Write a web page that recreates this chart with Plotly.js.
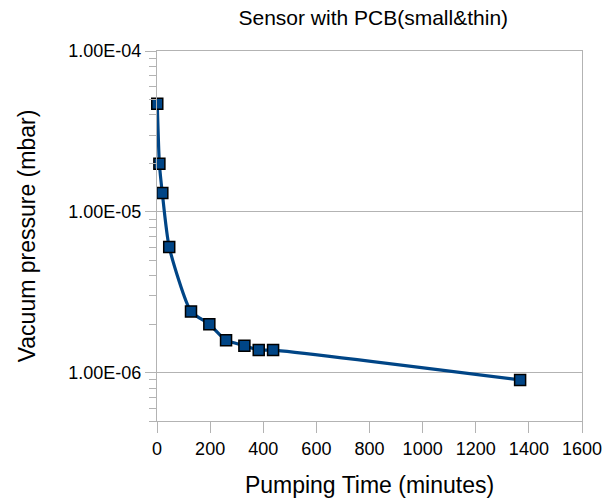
<!DOCTYPE html>
<html>
<head>
<meta charset="utf-8">
<script src="https://cdn.plot.ly/plotly-3.0.1.min.js"></script>
<style>html,body{margin:0;padding:0;background:#fff;}#chart{width:604px;height:500px;}</style>
</head>
<body>
<div id="chart"></div>
<script>
const pumpingTime = [1, 9, 20, 46, 128, 197, 260, 329, 383, 437, 1367];
const pressure = [4.69e-5, 1.99e-5, 1.31e-5, 6.04e-6, 2.4e-6, 2.0e-6, 1.59e-6, 1.47e-6, 1.38e-6, 1.38e-6, 9.0e-7];
const yTickVals = [1e-6, 1e-5, 1e-4];
const yTickText = ["1.00E-06", "1.00E-05", "1.00E-04"];
const xTickVals = [0, 200, 400, 600, 800, 1000, 1200, 1400, 1600];

const font = 'Liberation Sans, Arial, sans-serif';
const yRange = [Math.log10(5e-7), -4];

const trace = {
  x: pumpingTime,
  y: pressure,
  mode: 'lines+markers',
  cliponaxis: false,
  line: {color: '#004586', width: 3.2, shape: 'spline', smoothing: 0.6},
  marker: {symbol: 'square', size: 11, color: '#004586', line: {color: '#000000', width: 1.5}},
  hoverinfo: 'x+y'
};

const layout = {
  width: 604, height: 500,
  margin: {l: 157, r: 22, t: 51, b: 79},
  paper_bgcolor: '#ffffff', plot_bgcolor: '#ffffff',
  showlegend: false,
  font: {family: font, color: '#000000', size: 18},
  title: {text: 'Sensor with PCB(small&amp;thin)', font: {family: font, size: 21, color: '#000'}, x: 0.618, xanchor: 'center', y: 0.964, yanchor: 'middle'},
  xaxis: {
    range: [0, 1600], tickvals: xTickVals, ticktext: xTickVals.map(String),
    showgrid: false, zeroline: false,
    showline: true, linecolor: '#b3b3b3', linewidth: 1, mirror: true,
    ticks: 'outside', ticklen: 11, tickcolor: '#b3b3b3',
    tickfont: {family: font, size: 18, color: '#000'},
    automargin: false,
    title: {text: 'Pumping Time (minutes)', font: {family: font, size: 23, color: '#000'}, standoff: 19}
  },
  yaxis: {
    type: 'log', range: yRange,
    tickvals: yTickVals, ticktext: yTickText,
    showgrid: true, gridcolor: '#b3b3b3', gridwidth: 1, zeroline: false,
    showline: true, linecolor: '#b3b3b3', linewidth: 1, mirror: true,
    ticks: 'outside', ticklen: 11, tickcolor: '#b3b3b3',
    tickfont: {family: font, size: 18, color: '#000'},
    minor: {dtick: 'D1', ticks: 'outside', ticklen: 7, tickcolor: '#b3b3b3', showgrid: false},
    automargin: false,
    title: {text: 'Vacuum pressure (mbar)', font: {family: font, size: 23, color: '#000'}, standoff: 26}
  }
};

Plotly.newPlot('chart', [trace], layout, {displayModeBar: false, staticPlot: true});
</script>
</body>
</html>
